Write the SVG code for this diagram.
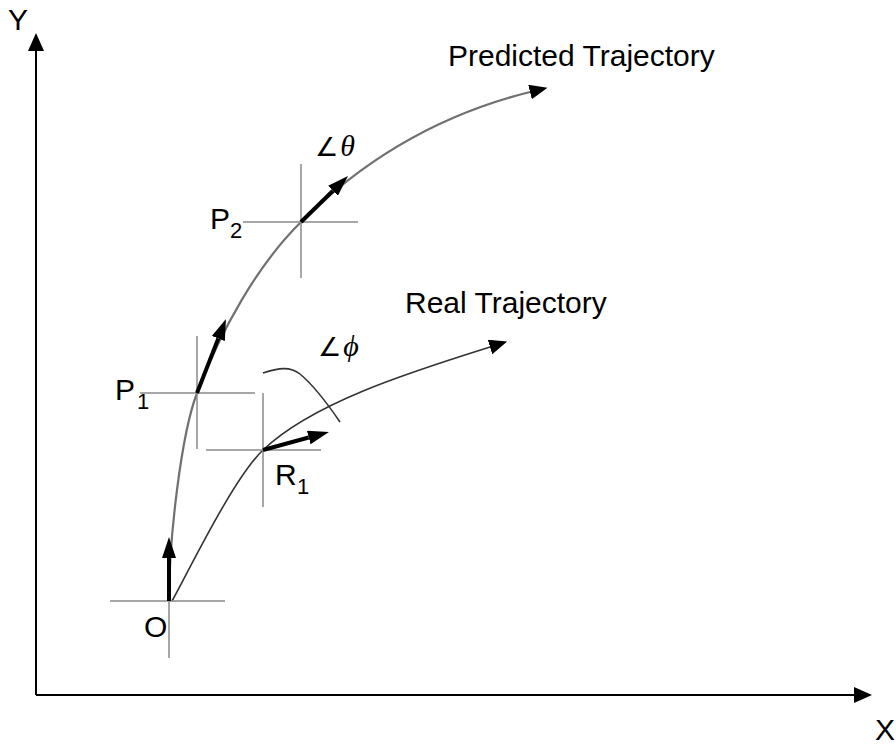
<svg xmlns="http://www.w3.org/2000/svg" width="896" height="745" viewBox="0 0 896 745">
<style>
.lbl{font-family:"Liberation Sans",Arial,sans-serif;font-size:30px;fill:#000}
.sub{font-family:"Liberation Sans",Arial,sans-serif;font-size:22px;fill:#000}
.ang{font-family:"Liberation Serif","DejaVu Serif",serif;font-style:italic;font-size:30px;fill:#000}
.angs{font-family:"DejaVu Sans",sans-serif;font-style:normal;font-size:26px}
.axis{stroke:#000;stroke-width:2;fill:none}
.cross{stroke:#8a8a8a;stroke-width:1.5;fill:none}
.vec{stroke:#000;stroke-width:4;fill:none}
.pred{stroke:#707070;stroke-width:2.2;fill:none}
.real{stroke:#333;stroke-width:1.6;fill:none}
</style>
<defs>
<marker id="axhead" markerUnits="userSpaceOnUse" markerWidth="19" markerHeight="17" refX="0" refY="8" orient="auto"><path d="M0,0 L18,8 L0,16 z" fill="#000"/></marker>
<marker id="vhead" markerUnits="userSpaceOnUse" markerWidth="22" markerHeight="15" refX="0" refY="7" orient="auto"><path d="M0,0 L21,7 L0,14 z" fill="#000"/></marker>
<marker id="chead" markerUnits="userSpaceOnUse" markerWidth="19" markerHeight="16" refX="0" refY="7.5" orient="auto"><path d="M0,0 L18,7.5 L0,15 z" fill="#000"/></marker>
</defs>
<g id="axes">
<line class="axis" x1="36" y1="695" x2="36" y2="51" marker-end="url(#axhead)"/>
<line class="axis" x1="36" y1="695" x2="854" y2="695" marker-end="url(#axhead)"/>
<text class="lbl" x="8" y="30">Y</text>
<text class="lbl" x="875" y="740">X</text>
</g>
<g id="connectors">
<path id="predicted" class="pred" d="M169,601 C169,540 181,435 197,393 C220,332 258,264 301,222 C366,157 442,114 530,92" marker-end="url(#chead)"/>
<path id="real" class="real" d="M172,601 C193.6,561.4 234.2,477.6 263,450 C313.4,401.7 414,371 490,347" marker-end="url(#chead)"/>
<path id="angle-arc" class="real" d="M263,373 C278,368 290,366 300,374 C312,384 325,400 340,422"/>
</g>
<g id="O">
<line class="cross" x1="110" y1="601" x2="225" y2="601"/>
<line class="cross" x1="169" y1="544" x2="169" y2="658"/>
<line class="vec" x1="169" y1="601" x2="169" y2="558" marker-end="url(#vhead)"/>
<text class="lbl" x="144" y="637">O</text>
</g>
<g id="P1">
<line class="cross" x1="140" y1="393" x2="255" y2="393"/>
<line class="cross" x1="197" y1="336" x2="197" y2="449"/>
<line class="vec" x1="197" y1="393" x2="218.3" y2="338.5" marker-end="url(#vhead)"/>
<text class="lbl" x="115" y="400">P</text><text class="sub" x="137" y="409">1</text>
</g>
<g id="R1">
<line class="cross" x1="206" y1="450" x2="321" y2="450"/>
<line class="cross" x1="263" y1="393" x2="263" y2="507"/>
<line class="vec" x1="263" y1="450" x2="308.7" y2="437.5" marker-end="url(#vhead)"/>
<text class="lbl" x="275" y="485">R</text><text class="sub" x="297" y="494">1</text>
</g>
<g id="P2">
<line class="cross" x1="243" y1="222" x2="358" y2="222"/>
<line class="cross" x1="301" y1="164" x2="301" y2="278"/>
<line class="vec" x1="301" y1="222" x2="333" y2="190.7" marker-end="url(#vhead)"/>
<text class="lbl" x="210" y="229">P</text><text class="sub" x="230" y="238">2</text>
</g>
<g id="labels">
<text class="ang" x="315" y="156"><tspan class="angs">∠</tspan><tspan dx="2">θ</tspan></text>
<text class="ang" x="318" y="356"><tspan class="angs">∠</tspan><tspan dx="2">ϕ</tspan></text>
<text class="lbl" x="448" y="66">Predicted Trajectory</text>
<text class="lbl" x="405" y="313">Real Trajectory</text>
</g>
</svg>
